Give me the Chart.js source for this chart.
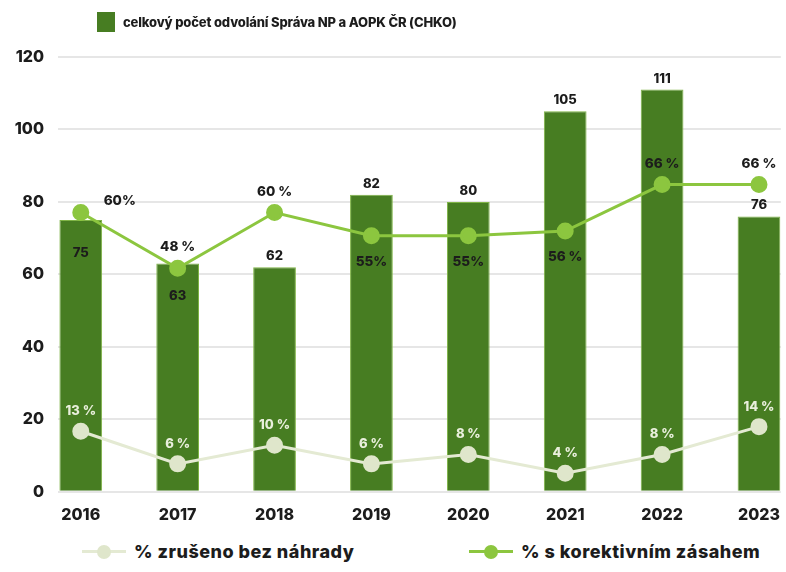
<!DOCTYPE html>
<html>
<head>
<meta charset="utf-8">
<script src="https://cdn.jsdelivr.net/npm/chart.js@4.4.0/dist/chart.umd.min.js"></script>
<style>
  body { margin: 0; background: #fff; font-family: Inter, sans-serif; overflow: hidden; }
  #wrap { position: relative; width: 786px; height: 531px; }
  #legend1 { position: absolute; left: 97px; top: 12px; display: flex; align-items: center; font-weight: 800; font-size: 13px; letter-spacing: -0.15px; color: #1c1c1c; }
  #legend1 .box { width: 18px; height: 20px; background: #477d22; margin-right: 8px; }
  #legend2 { position: absolute; left: 0; top: 540px; width: 786px; height: 32px; }
  .item { position: absolute; top: 1px; display: flex; align-items: center; font-weight: 800; font-size: 18px; letter-spacing: 0.5px; color: #1c1c1c; }
  .mark { position: relative; width: 44px; height: 14px; margin-right: 8px; }
  .mark .ln { position: absolute; left: 0; right: 0; top: 5px; height: 3px; }
  .mark .dot { position: absolute; left: 15px; top: 0; width: 14px; height: 14px; border-radius: 50%; }
</style>
</head>
<body>
<div id="wrap"><canvas id="c"></canvas></div>
<div id="legend1"><div class="box"></div><span id="l0"></span></div>
<div id="legend2">
  <div class="item" style="left:82px"><div class="mark"><div class="ln" style="background:#e4ead3"></div><div class="dot" style="background:#dfe6cb"></div></div><span id="l1"></span></div>
  <div class="item" style="left:469px"><div class="mark"><div class="ln" style="background:#8cc63f"></div><div class="dot" style="background:#8cc63f"></div></div><span id="l2"></span></div>
</div>
<script>
// roky
const years = ["2016", "2017", "2018", "2019", "2020", "2021", "2022", "2023"];
// celkový počet odvolání
const appeals = [75, 63, 62, 82, 80, 105, 111, 76];
// % s korektivním zásahem
const corrective = [60, 48, 60, 55, 55, 56, 66, 66];
const correctiveLabels = ["60%", "48 %", "60 %", "55%", "55%", "56 %", "66 %", "66 %"];
// % zrušeno bez náhrady
const cancelled = [13, 6, 10, 6, 8, 4, 8, 14];
const cancelledLabels = ["13 %", "6 %", "10 %", "6 %", "8 %", "4 %", "8 %", "14 %"];

const barName = "celkový počet odvolání Správa NP a AOPK ČR (CHKO)";
const cancelledName = "% zrušeno bez náhrady";
const correctiveName = "% s korektivním zásahem";
document.getElementById("l0").textContent = barName;
document.getElementById("l1").textContent = cancelledName;
document.getElementById("l2").textContent = correctiveName;

// where the value labels sit
const barLabelInside = [true, true, false, false, false, false, false, false];
const correctivePos = ["right", "above", "above", "below", "below", "below", "above", "above"];

const FONT = "Inter, sans-serif";

const labelPlugin = {
  id: "valueLabels",
  afterDatasetsDraw(chart) {
    const ctx = chart.ctx;
    ctx.save();
    ctx.textAlign = "center";
    ctx.textBaseline = "middle";
    // bars
    ctx.font = `800 13px ${FONT}`;
    ctx.fillStyle = "#1c1c1c";
    chart.getDatasetMeta(0).data.forEach((el, i) => {
      const y = barLabelInside[i] ? el.y + 33 : el.y - 11;
      ctx.fillText(String(appeals[i]), el.x, y);
    });
    // korektivní zásah
    ctx.font = `800 13.5px ${FONT}`;
    chart.getDatasetMeta(2).data.forEach((el, i) => {
      let x = el.x, y = el.y;
      if (correctivePos[i] === "right") { x += 39; y -= 12; }
      else if (correctivePos[i] === "above") { y -= 21; }
      else { y += 26; }
      ctx.fillText(correctiveLabels[i], x, y);
    });
    // zrušeno
    ctx.font = `800 13px ${FONT}`;
    ctx.fillStyle = "#e9efdc";
    chart.getDatasetMeta(1).data.forEach((el, i) => {
      ctx.fillText(cancelledLabels[i], el.x, el.y - 20);
    });
    ctx.restore();
  },
};

new Chart(document.getElementById("c"), {
  type: "bar",
  data: {
    datasets: [
      {
        label: barName,
        data: appeals.map((v, i) => ({ x: i, y: v })),
        backgroundColor: "#477d22",
        borderColor: "#7fb446",
        borderWidth: 1,
        barPercentage: 0.9,
        categoryPercentage: 0.49,
        order: 3,
        yAxisID: "y",
      },
      {
        type: "line",
        label: cancelledName,
        data: cancelled.map((v, i) => ({ x: i, y: v })),
        borderColor: "#e4ead3",
        backgroundColor: "#dfe6cb",
        pointBackgroundColor: "#dfe6cb",
        pointBorderColor: "#dfe6cb",
        borderWidth: 3,
        pointRadius: 7,
        clip: false,
        order: 1,
        yAxisID: "y1",
      },
      {
        type: "line",
        label: correctiveName,
        data: corrective.map((v, i) => ({ x: i, y: v })),
        borderColor: "#8cc63f",
        backgroundColor: "#8cc63f",
        pointBackgroundColor: "#8cc63f",
        pointBorderColor: "#8cc63f",
        borderWidth: 3,
        pointRadius: 7,
        clip: false,
        order: 2,
        yAxisID: "y1",
      },
    ],
  },
  options: {
    responsive: true,
    maintainAspectRatio: false,
    animation: false,
    layout: { autoPadding: false, padding: { top: 57, right: 1, left: 8, bottom: 0 } },
    plugins: {
      tooltip: { enabled: false },
      legend: { display: false },
    },
    scales: {
      x: {
        type: "linear",
        offset: false,
        min: -0.235,
        max: 7.225,
        grid: { display: false },
        border: { display: false },
        afterBuildTicks: (scale) => {
          scale.ticks = years.map((_, i) => ({ value: i }));
        },
        ticks: {
          callback: (val) => years[val],
          color: "#1c1c1c",
          padding: 6,
          maxRotation: 0,
          font: { family: FONT, size: 16, weight: "800" },
        },
      },
      y: {
        min: 0,
        max: 120,
        afterFit: (scale) => { scale.width = 50; },
        ticks: {
          stepSize: 20,
          color: "#1c1c1c",
          padding: 14,
          font: { family: FONT, size: 16, weight: "800" },
        },
        grid: { color: "#e6e6e6", lineWidth: 2, drawTicks: false },
        border: { display: false },
      },
      y1: {
        display: false,
        min: 0,
        max: 93.4,
      },
    },
  },
  plugins: [labelPlugin],
});
</script>
</body>
</html>
